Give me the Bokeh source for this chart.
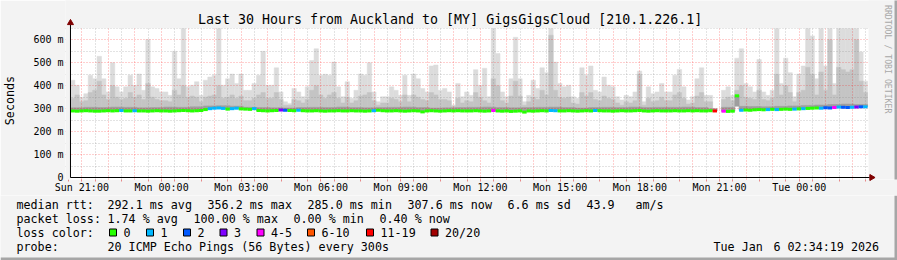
import numpy as np
import pandas as pd
from bokeh.plotting import figure
from bokeh.layouts import column
from bokeh.models import ColumnDataSource, FixedTicker, Range1d
from bokeh.core.properties import value
from bokeh.embed import file_html
from bokeh.resources import INLINE

# ---------------- data ----------------
T_END = pd.Timestamp("2026-01-06 02:34:19")
DAY0 = pd.Timestamp("2026-01-04 00:00:00")
SPAN_H = 30
STEP_H = 1.0 / 6.0  # 10-minute columns

# highest ping (light smoke top), ms
hi = [424, 402, 350, 365, 446, 430, 528, 430, 373, 500,
      395, 373, 395, 446, 402, 451, 380, 601, 395, 388,
      373, 373, 358, 550, 430, 650, 395, 402, 417, 358,
      424, 438, 446, 650, 402, 430, 451, 410, 451, 380,
      380, 410, 446, 550, 402, 402, 478, 373, 330, 323,
      388, 373, 352, 395, 510, 561, 446, 450, 446, 503,
      395, 352, 417, 345, 380, 451, 446, 500, 373, 330,
      352, 352, 395, 380, 358, 446, 358, 451, 430, 388,
      373, 486, 490, 380, 388, 373, 316, 410, 352, 373,
      358, 470, 402, 476, 352, 650, 540, 373, 352, 430,
      611, 430, 330, 358, 424, 388, 478, 457, 650, 503,
      410, 395, 402, 352, 345, 478, 446, 486, 380, 373,
      438, 402, 395, 352, 338, 358, 352, 373, 464, 330,
      395, 365, 373, 410, 373, 373, 446, 471, 395, 338,
      352, 430, 478, 358, 358, 301, np.nan, 380, 395, 358,
      520, 561, 410, 395, 373, 514, 373, 358, 380, 650,
      410, 520, 457, 352, 451, 486, 650, 617, 430, 650,
      486, 650, 410, 650, 650, 650, 650, 650, 547, 420]

# upper smoke (medium gray top), ms
mid = [345, 360, 330, 335, 370, 380, 420, 360, 340, 400,
       350, 340, 345, 370, 350, 360, 340, 410, 350, 340,
       335, 335, 330, 380, 360, 400, 350, 355, 350, 330,
       350, 355, 360, 400, 345, 350, 360, 345, 355, 335,
       335, 345, 360, 370, 345, 345, 370, 340, 315, 315,
       340, 335, 325, 340, 380, 400, 360, 345, 360, 370,
       345, 325, 350, 325, 335, 355, 360, 370, 335, 315,
       325, 325, 345, 340, 330, 360, 330, 360, 350, 340,
       335, 370, 360, 340, 340, 335, 310, 345, 325, 335,
       330, 370, 350, 335, 325, 430, 400, 335, 325, 355,
       420, 355, 315, 330, 350, 340, 380, 360, 620, 380,
       350, 345, 350, 325, 320, 370, 355, 370, 340, 335,
       355, 345, 340, 325, 315, 330, 325, 335, 450, 315,
       345, 330, 335, 350, 335, 335, 360, 370, 345, 320,
       325, 355, 370, 330, 330, 298, np.nan, 340, 350, 335,
       380, 400, 350, 345, 340, 380, 340, 335, 345, 450,
       360, 400, 370, 330, 370, 380, 480, 450, 360, 460,
       380, 600, 360, 480, 470, 460, 470, 600, 420, 370]

# median rtt, ms
med = [290, 289, 290, 291, 290, 289, 289, 290, 291, 290,
       291, 292, 290, 290, 291, 290, 290, 289, 290, 291,
       290, 290, 289, 290, 291, 292, 291, 290, 291, 292,
       296, 300, 302, 303, 301, 298, 300, 302, 299, 298,
       297, 300, 292, 291, 290, 291, 292, 294, 293, 292,
       291, 293, 291, 290, 290, 291, 290, 289, 290, 290,
       291, 290, 290, 291, 290, 290, 289, 290, 291, 293,
       291, 290, 290, 291, 290, 289, 290, 291, 290, 286,
       290, 291, 290, 289, 290, 291, 290, 291, 290, 290,
       290, 291, 290, 289, 290, 292, 290, 289, 290, 288,
       289, 290, 285, 290, 289, 290, 291, 290, 292, 291,
       290, 290, 291, 290, 289, 290, 291, 290, 292, 291,
       290, 290, 289, 290, 291, 290, 290, 291, 292, 290,
       289, 290, 291, 290, 290, 290, 291, 290, 290, 291,
       290, 291, 290, 290, 291, 290, np.nan, 289, 288, 289,
       356, 293, 294, 293, 295, 296, 295, 296, 297, 296,
       297, 298, 297, 298, 299, 300, 301, 302, 303, 302,
       304, 303, 305, 307, 306, 305, 306, 307, 308, 308]

# dark smoke top per 30 minutes, ms
dark30 = [304, 306, 305, 307, 306, 304, 305, 307, 306, 308,
          312, 313, 311, 306, 305, 304, 303, 305, 306, 305,
          307, 305, 304, 305, 306, 307, 305, 303, 304, 305,
          306, 307, 305, 304, 305, 306, 307, 305, 303, 305,
          306, 305, 307, 305, 306, 306, 307, 305, 300, 306,
          310, 309, 308, 310, 312, 314, 316, 318, 320, 318]

# lost pings (of 20) for the columns that had loss
loss_idx = [11, 14, 31, 32, 33, 34, 36, 37, 41, 47, 48, 51, 68, 95, 108, 109, 118,
            145, 147, 151, 157, 159, 163, 165, 169,
            170, 171, 172, 173, 174, 175, 176, 177, 178, 179]
loss_val = [1, 1, 1, 1, 1, 1, 1, 1, 1, 3, 2, 1, 1, 4, 1, 1, 1,
            12, 4, 1, 1, 1, 1, 1, 1,
            2, 2, 4, 1, 2, 2, 1, 3, 2, 1]

loss_labels = ["0", "1", "2", "3", "4-5", "6-10", "11-19", "20/20"]
loss_colors = ["#26ff00", "#00b8ff", "#0059ff", "#7e00ff", "#ff00ff", "#ff5500", "#ff0000", "#a10000"]

y_ticks = [0, 100, 200, 300, 400, 500, 600]
tick_times = ["2026-01-04 21:00", "2026-01-05 00:00", "2026-01-05 03:00", "2026-01-05 06:00",
              "2026-01-05 09:00", "2026-01-05 12:00", "2026-01-05 15:00", "2026-01-05 18:00",
              "2026-01-05 21:00", "2026-01-06 00:00"]

title_text = "Last 30 Hours from Auckland to [MY] GigsGigsCloud [210.1.226.1]"
stat_rows = [
    ("median rtt:", [(107, "292.1 ms avg"), (207, "356.2 ms max"), (307, "285.0 ms min"),
                     (407, "307.6 ms now"), (507, "6.6 ms sd"), (586, "43.9"), (635, "am/s")]),
    ("packet loss:", [(107, "1.74 % avg"), (193, "100.00 % max"), (293, "0.00 % min"), (379, "0.40 % now")]),
]
probe_text = "20 ICMP Echo Pings (56 Bytes) every 300s"

# ---------------- derived ----------------
n = len(hi)
assert len(mid) == n and len(med) == n and len(dark30) * 3 == n and len(loss_idx) == len(loss_val)


def hours(ts):
    return (pd.Timestamp(ts) - DAY0) / pd.Timedelta(hours=1)


x_end = hours(T_END)
x0 = x_end - SPAN_H
left = x0 + np.arange(n) * STEP_H
right = left + STEP_H


def color_for(k):
    if k == 0:
        return loss_colors[0]
    if k <= 3:
        return loss_colors[k]
    if k <= 5:
        return loss_colors[4]
    if k <= 10:
        return loss_colors[5]
    if k <= 19:
        return loss_colors[6]
    return loss_colors[7]


loss = [0] * n
for i, v in zip(loss_idx, loss_val):
    loss[i] = v

src = ColumnDataSource(dict(
    left=left, right=right,
    hi=np.array(hi, float), mid=np.array(mid, float), med=np.array(med, float),
    dark=np.repeat(np.array(dark30, float), 3),
    mcolor=[color_for(k) for k in loss],
))

# ---------------- geometry (canvas pixels) ----------------
W = 897
MAIN_H = 195
FOOT_H = 260 - MAIN_H
AX_X, AX_Y = 67, 178           # canvas position of (x0, 0)
PX_H = 800.0 / SPAN_H          # px per hour
PX_MS = 150.0 / 650.0          # px per ms
FRAME_L, FRAME_B = 62, 180     # frame extends a little past the axes (for the arrow heads)


def dx(X):
    return x0 + (X - AX_X) / PX_H


def dy(Y):
    return (AX_Y - Y) / PX_MS


BG = "#f3f3f3"
SHADE = "#a6a6a6"
MONO = "DejaVu Sans Mono"
HEAD = "#7f0000"

p = figure(width=W, height=MAIN_H, output_backend="svg", toolbar_location=None,
           x_range=Range1d(dx(FRAME_L), dx(W)), y_range=Range1d(dy(FRAME_B), dy(0)),
           min_border_left=FRAME_L, min_border_right=0, min_border_top=0,
           min_border_bottom=MAIN_H - FRAME_B,
           background_fill_color="white", border_fill_color=BG, outline_line_color=None)

# smoke
p.quad(left="left", right="right", bottom="med", top="hi", source=src,
       fill_color="#dcdcdc", line_color="#dcdcdc", line_width=0.5)
p.quad(left="left", right="right", bottom="med", top="mid", source=src,
       fill_color="#c4c4c4", line_color="#c4c4c4", line_width=0.5)
p.quad(left="left", right="right", bottom="med", top="dark", source=src,
       fill_color="#9e9e9e", line_color="#9e9e9e", line_width=0.5)

# grids (on top of the smoke)
hour_ticks = list(range(21, 51))
half_ticks = [h + 0.5 for h in range(20, 51)]
p.xgrid.ticker = FixedTicker(ticks=hour_ticks, minor_ticks=half_ticks)
p.ygrid.ticker = FixedTicker(ticks=[100, 200, 300, 400, 500, 600],
                             minor_ticks=[50, 150, 250, 350, 450, 550, 650])
for g in (p.xgrid, p.ygrid):
    g.grid_line_color = "#ff0000"
    g.grid_line_alpha = 0.38
    g.grid_line_dash = "1 2"
    g.minor_grid_line_color = "#808080"
    g.minor_grid_line_alpha = 0.45
    g.minor_grid_line_dash = "1 2"
    g.level = "guide"

# background covers outside the graph area (above 650 ms, left of axis, right of end)
covers = [
    (dx(FRAME_L), dx(W), dy(28), dy(0)),
    (dx(FRAME_L), dx(AX_X), dy(FRAME_B), dy(0)),
    (dx(868), dx(W), dy(FRAME_B), dy(0)),
]
for l, r, b, t in covers:
    c = p.quad(left=[l], right=[r], bottom=[b], top=[t], fill_color=BG, line_color=None)
    c.level = "annotation"
sh = p.quad(left=[dx(894)], right=[dx(W)], bottom=[dy(FRAME_B)], top=[dy(0)],
            fill_color=SHADE, line_color=None)
sh.level = "annotation"

# median line coloured by loss
med_r = p.segment(x0="left", y0="med", x1="right", y1="med", source=src,
                  line_color="mcolor", line_width=3, line_cap="butt")
med_r.level = "annotation"

# axis lines with arrow heads
ax_lines = p.segment(x0=[x0, x0], y0=[0, 0], x1=[x0, dx(869)], y1=[dy(24), 0],
                     line_color="black", line_width=1)
ax_lines.level = "overlay"
heads = p.scatter(x=[x0, dx(871)], y=[dy(22.5), 0], marker="triangle", size=6,
                  angle=[0, -np.pi / 2], fill_color=HEAD, line_color=HEAD)
heads.level = "overlay"

# title & watermark inside the canvas
t1 = p.text(x=[dx(448)], y=[dy(19)], text=[title_text], text_font=value(MONO),
            text_font_size=value("13.3px"), text_align="center", text_baseline="middle",
            text_color="black")
t1.level = "overlay"
t2 = p.text(x=[dx(887)], y=[dy(59)], text=["RRDTOOL / TOBI OETIKER"], text_font=value(MONO),
            text_font_size=value("8.2px"), text_align="center", text_baseline="middle",
            angle=-np.pi / 2, text_color="#a8a8a8")
t2.level = "overlay"

# axes
x_tick_vals = [hours(t) for t in tick_times]
p.xaxis.ticker = FixedTicker(ticks=x_tick_vals, minor_ticks=half_ticks)
p.xaxis.major_label_overrides = {v: pd.Timestamp(t).strftime("%a %H:%M") for v, t in zip(x_tick_vals, tick_times)}
p.yaxis.ticker = FixedTicker(ticks=y_ticks)
p.yaxis.major_label_overrides = {v: ("0" if v == 0 else f"{v} m") for v in y_ticks}
p.yaxis.bounds = (0, 668)
for ax in (p.xaxis, p.yaxis):
    ax.axis_line_color = None
    ax.major_tick_line_color = None
    ax.minor_tick_line_color = None
    ax.major_tick_out = 0
    ax.major_tick_in = 0
    ax.minor_tick_out = 0
    ax.minor_tick_in = 0
    ax.major_label_text_font = MONO
    ax.major_label_text_font_size = "10px"
    ax.major_label_text_color = "black"
    ax.major_label_standoff = 2
# small red time ticks below the time axis
p.xaxis.major_tick_line_color = "#e04040"
p.xaxis.minor_tick_line_color = "#e04040"
p.xaxis.major_tick_line_alpha = 0.6
p.xaxis.minor_tick_line_alpha = 0.6
p.xaxis.major_tick_out = 2
p.xaxis.minor_tick_out = 2
p.xaxis.major_label_standoff = 0

# the axis label is centred on the frame; non-breaking padding moves it to the graph's middle
p.yaxis.axis_label = "Seconds\u00a0\u00a0\u00a0"
p.yaxis.axis_label_text_font = MONO
p.yaxis.axis_label_text_font_size = "11.7px"
p.yaxis.axis_label_text_font_style = "normal"
p.yaxis.axis_label_text_color = "black"
p.yaxis.axis_label_standoff = 13

# ---------------- footer (legend lines) ----------------
f = figure(width=W, height=FOOT_H, output_backend="svg", toolbar_location=None,
           x_range=Range1d(0, W), y_range=Range1d(FOOT_H, 0),
           x_axis_location=None, y_axis_location=None,
           min_border=0, min_border_left=0, min_border_right=0, min_border_top=0, min_border_bottom=0,
           background_fill_color=BG, border_fill_color=BG, outline_line_color=None)
f.grid.visible = False

for fig in (p, f):
    if "frame_align" in fig.properties():
        fig.frame_align = False

Y0 = MAIN_H
rows_y = [204 - Y0, 218 - Y0, 232 - Y0, 246 - Y0]
tx, ty, tt = [], [], []
for (head, parts), yy in zip(stat_rows, rows_y[:2]):
    tx.append(16); ty.append(yy); tt.append(head)
    for X, t in parts:
        tx.append(X); ty.append(yy); tt.append(t)
tx.append(16); ty.append(rows_y[2]); tt.append("loss color:")
sq_x = [109, 146, 183, 219.5, 256.5, 307, 366, 430.5]
for X, t in zip(sq_x, loss_labels):
    tx.append(X + 14); ty.append(rows_y[2]); tt.append(t)
tx += [16, 107, 713, 773]
ty += [rows_y[3]] * 4
tt += ["probe:", probe_text, "Tue Jan", "6 02:34:19 2026"]

f.text(x=tx, y=ty, text=tt, text_font=value(MONO), text_font_size=value("11.7px"),
       text_align="left", text_baseline="middle", text_color="black")
f.quad(left=sq_x, right=[v + 7 for v in sq_x], top=[228.5 - Y0] * len(sq_x),
       bottom=[235.5 - Y0] * len(sq_x), fill_color=loss_colors, line_color="black", line_width=1)
# outer shading (right and bottom edges)
f.quad(left=[894, 0], right=[W, W], top=[0, 257 - Y0], bottom=[FOOT_H, FOOT_H],
       fill_color=SHADE, line_color=None)

layout = column(p, f, spacing=0)
open("out.html", "w").write(file_html(layout, INLINE))
